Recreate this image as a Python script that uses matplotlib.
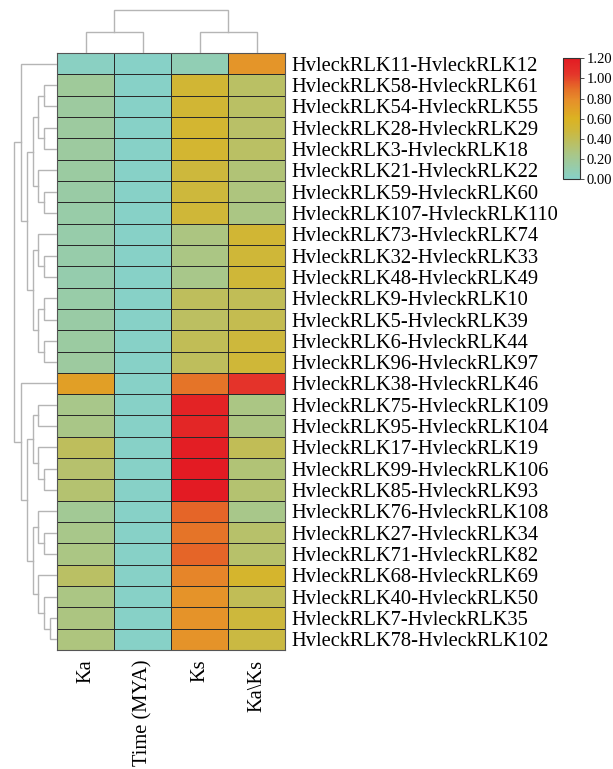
import matplotlib
matplotlib.use("Agg")
import matplotlib.pyplot as plt
import numpy as np
from matplotlib.colors import LinearSegmentedColormap

W, H = 613, 769
plt.rcParams['font.family'] = ['Liberation Serif', 'DejaVu Serif']

row_labels = [
    "HvleckRLK11-HvleckRLK12", "HvleckRLK58-HvleckRLK61", "HvleckRLK54-HvleckRLK55",
    "HvleckRLK28-HvleckRLK29", "HvleckRLK3-HvleckRLK18", "HvleckRLK21-HvleckRLK22",
    "HvleckRLK59-HvleckRLK60", "HvleckRLK107-HvleckRLK110", "HvleckRLK73-HvleckRLK74",
    "HvleckRLK32-HvleckRLK33", "HvleckRLK48-HvleckRLK49", "HvleckRLK9-HvleckRLK10",
    "HvleckRLK5-HvleckRLK39", "HvleckRLK6-HvleckRLK44", "HvleckRLK96-HvleckRLK97",
    "HvleckRLK38-HvleckRLK46", "HvleckRLK75-HvleckRLK109", "HvleckRLK95-HvleckRLK104",
    "HvleckRLK17-HvleckRLK19", "HvleckRLK99-HvleckRLK106", "HvleckRLK85-HvleckRLK93",
    "HvleckRLK76-HvleckRLK108", "HvleckRLK27-HvleckRLK34", "HvleckRLK71-HvleckRLK82",
    "HvleckRLK68-HvleckRLK69", "HvleckRLK40-HvleckRLK50", "HvleckRLK7-HvleckRLK35",
    "HvleckRLK78-HvleckRLK102",
]
col_labels = ["Ka", "Time (MYA)", "Ks", "Ka\\Ks"]

ka = [0.03, 0.18, 0.16, 0.16, 0.16, 0.15, 0.14, 0.13, 0.12, 0.12, 0.11, 0.13, 0.14, 0.15,
      0.16, 0.70, 0.24, 0.25, 0.38, 0.33, 0.32, 0.20, 0.24, 0.26, 0.36, 0.26, 0.27, 0.28]
time_mya = [0.01, 0.01, 0.01, 0.01, 0.01, 0.01, 0.01, 0.01, 0.01, 0.01, 0.01, 0.01, 0.01, 0.01,
            0.01, 0.01, 0.01, 0.01, 0.01, 0.01, 0.01, 0.01, 0.01, 0.01, 0.01, 0.01, 0.01, 0.01]
ks = [0.08, 0.52, 0.52, 0.53, 0.53, 0.48, 0.48, 0.50, 0.27, 0.26, 0.24, 0.38, 0.37, 0.40,
      0.38, 0.88, 1.15, 1.13, 1.18, 1.20, 1.20, 0.92, 0.88, 0.92, 0.82, 0.76, 0.76, 0.76]
kaks = [0.75, 0.36, 0.36, 0.35, 0.36, 0.30, 0.28, 0.26, 0.52, 0.50, 0.50, 0.40, 0.42, 0.48,
        0.50, 1.05, 0.26, 0.27, 0.40, 0.30, 0.32, 0.24, 0.34, 0.34, 0.55, 0.40, 0.48, 0.46]

# dendrogram trees: (left, right, height); leaves are row/column indices
row_tree = (
    (0, ((((1, 2, 12.7), (3, 4, 12.7), 18.7), (5, (6, 7, 12.7), 18.7), 24.3),
         ((8, (9, 10, 12.7), 18.7), ((11, 12, 12.7), (13, 14, 12.7), 18.7), 24.3), 30.3), 36.0),
    (15, (((16, 17, 18.7), (18, (19, 20, 12.7), 18.7), 24.3),
          ((21, (22, 23, 12.7), 18.7), (24, (25, (26, 27, 7.0), 12.7), 18.7), 24.3), 30.3), 36.0),
    42.7)
col_tree = ((0, 1, 21.3), (2, 3, 21.3), 42.7)

data = np.array([ka, time_mya, ks, kaks]).T

cmap = LinearSegmentedColormap.from_list("ks", [
    (0.0, "#86d1c9"), (0.2, "#a8c78a"), (0.4, "#cdb83c"), (0.5, "#dbb322"),
    (0.65, "#e6902a"), (0.75, "#e56e28"), (0.87, "#e4352a"), (1.0, "#e31b23")])

fig = plt.figure(figsize=(W / 100, H / 100), dpi=100)

def fx(px):
    return px / W

def fy(px):
    return 1 - px / H

hm_l, hm_r, hm_t, hm_b = 57, 285, 53, 650
ax = fig.add_axes([fx(hm_l), fy(hm_b), fx(hm_r - hm_l), (hm_b - hm_t) / H])
nrows, ncols = data.shape
mesh = ax.pcolormesh(np.arange(ncols + 1), np.arange(nrows + 1), data, cmap=cmap,
                     vmin=0, vmax=1.2, edgecolors="#2a2a2a", linewidth=0.6)
ax.set_xlim(0, ncols)
ax.set_ylim(nrows, 0)
ax.yaxis.tick_right()
ax.set_yticks(np.arange(nrows) + 0.5)
ax.set_yticklabels(row_labels, fontsize=14.8)
ax.set_xticks(np.arange(ncols) + 0.5)
ax.set_xticklabels(col_labels, fontsize=14.8, rotation=90, va="top")
ax.tick_params(axis="both", length=0)
ax.tick_params(axis="y", pad=5)
ax.tick_params(axis="x", pad=7)
for s in ax.spines.values():
    s.set_color("#555555")
    s.set_linewidth(0.8)

LC = "#b5b5b5"

def draw(axd, node, orient):
    if isinstance(node, int):
        return node + 0.5, 0.0
    l, r, h = node
    pl, hl = draw(axd, l, orient)
    pr, hr = draw(axd, r, orient)
    ps = [pl, pl, pr, pr]
    hs = [hl, h, h, hr]
    if orient == "left":
        axd.plot(hs, ps, color=LC, lw=1.0, solid_joinstyle="miter")
    else:
        axd.plot(ps, hs, color=LC, lw=1.0, solid_joinstyle="miter")
    return (pl + pr) / 2, h

axl = fig.add_axes([0, fy(hm_b), fx(hm_l), (hm_b - hm_t) / H])
draw(axl, row_tree, "left")
axl.set_xlim(57, 0)
axl.set_ylim(nrows, 0)
axl.axis("off")

axt = fig.add_axes([fx(hm_l), fy(hm_t), fx(hm_r - hm_l), hm_t / H])
draw(axt, col_tree, "top")
axt.set_xlim(0, ncols)
axt.set_ylim(0, 53)
axt.axis("off")

cax = fig.add_axes([fx(563), fy(179.3), fx(17), 121 / H])
cb = fig.colorbar(mesh, cax=cax, ticks=[0, 0.2, 0.4, 0.6, 0.8, 1.0, 1.2], format="%.2f")
cb.outline.set_edgecolor("#333333")
cb.outline.set_linewidth(0.8)
cax.tick_params(labelsize=10.5, length=3, width=0.6, color="#333333", pad=2)

fig.savefig("out.png", dpi=100)
